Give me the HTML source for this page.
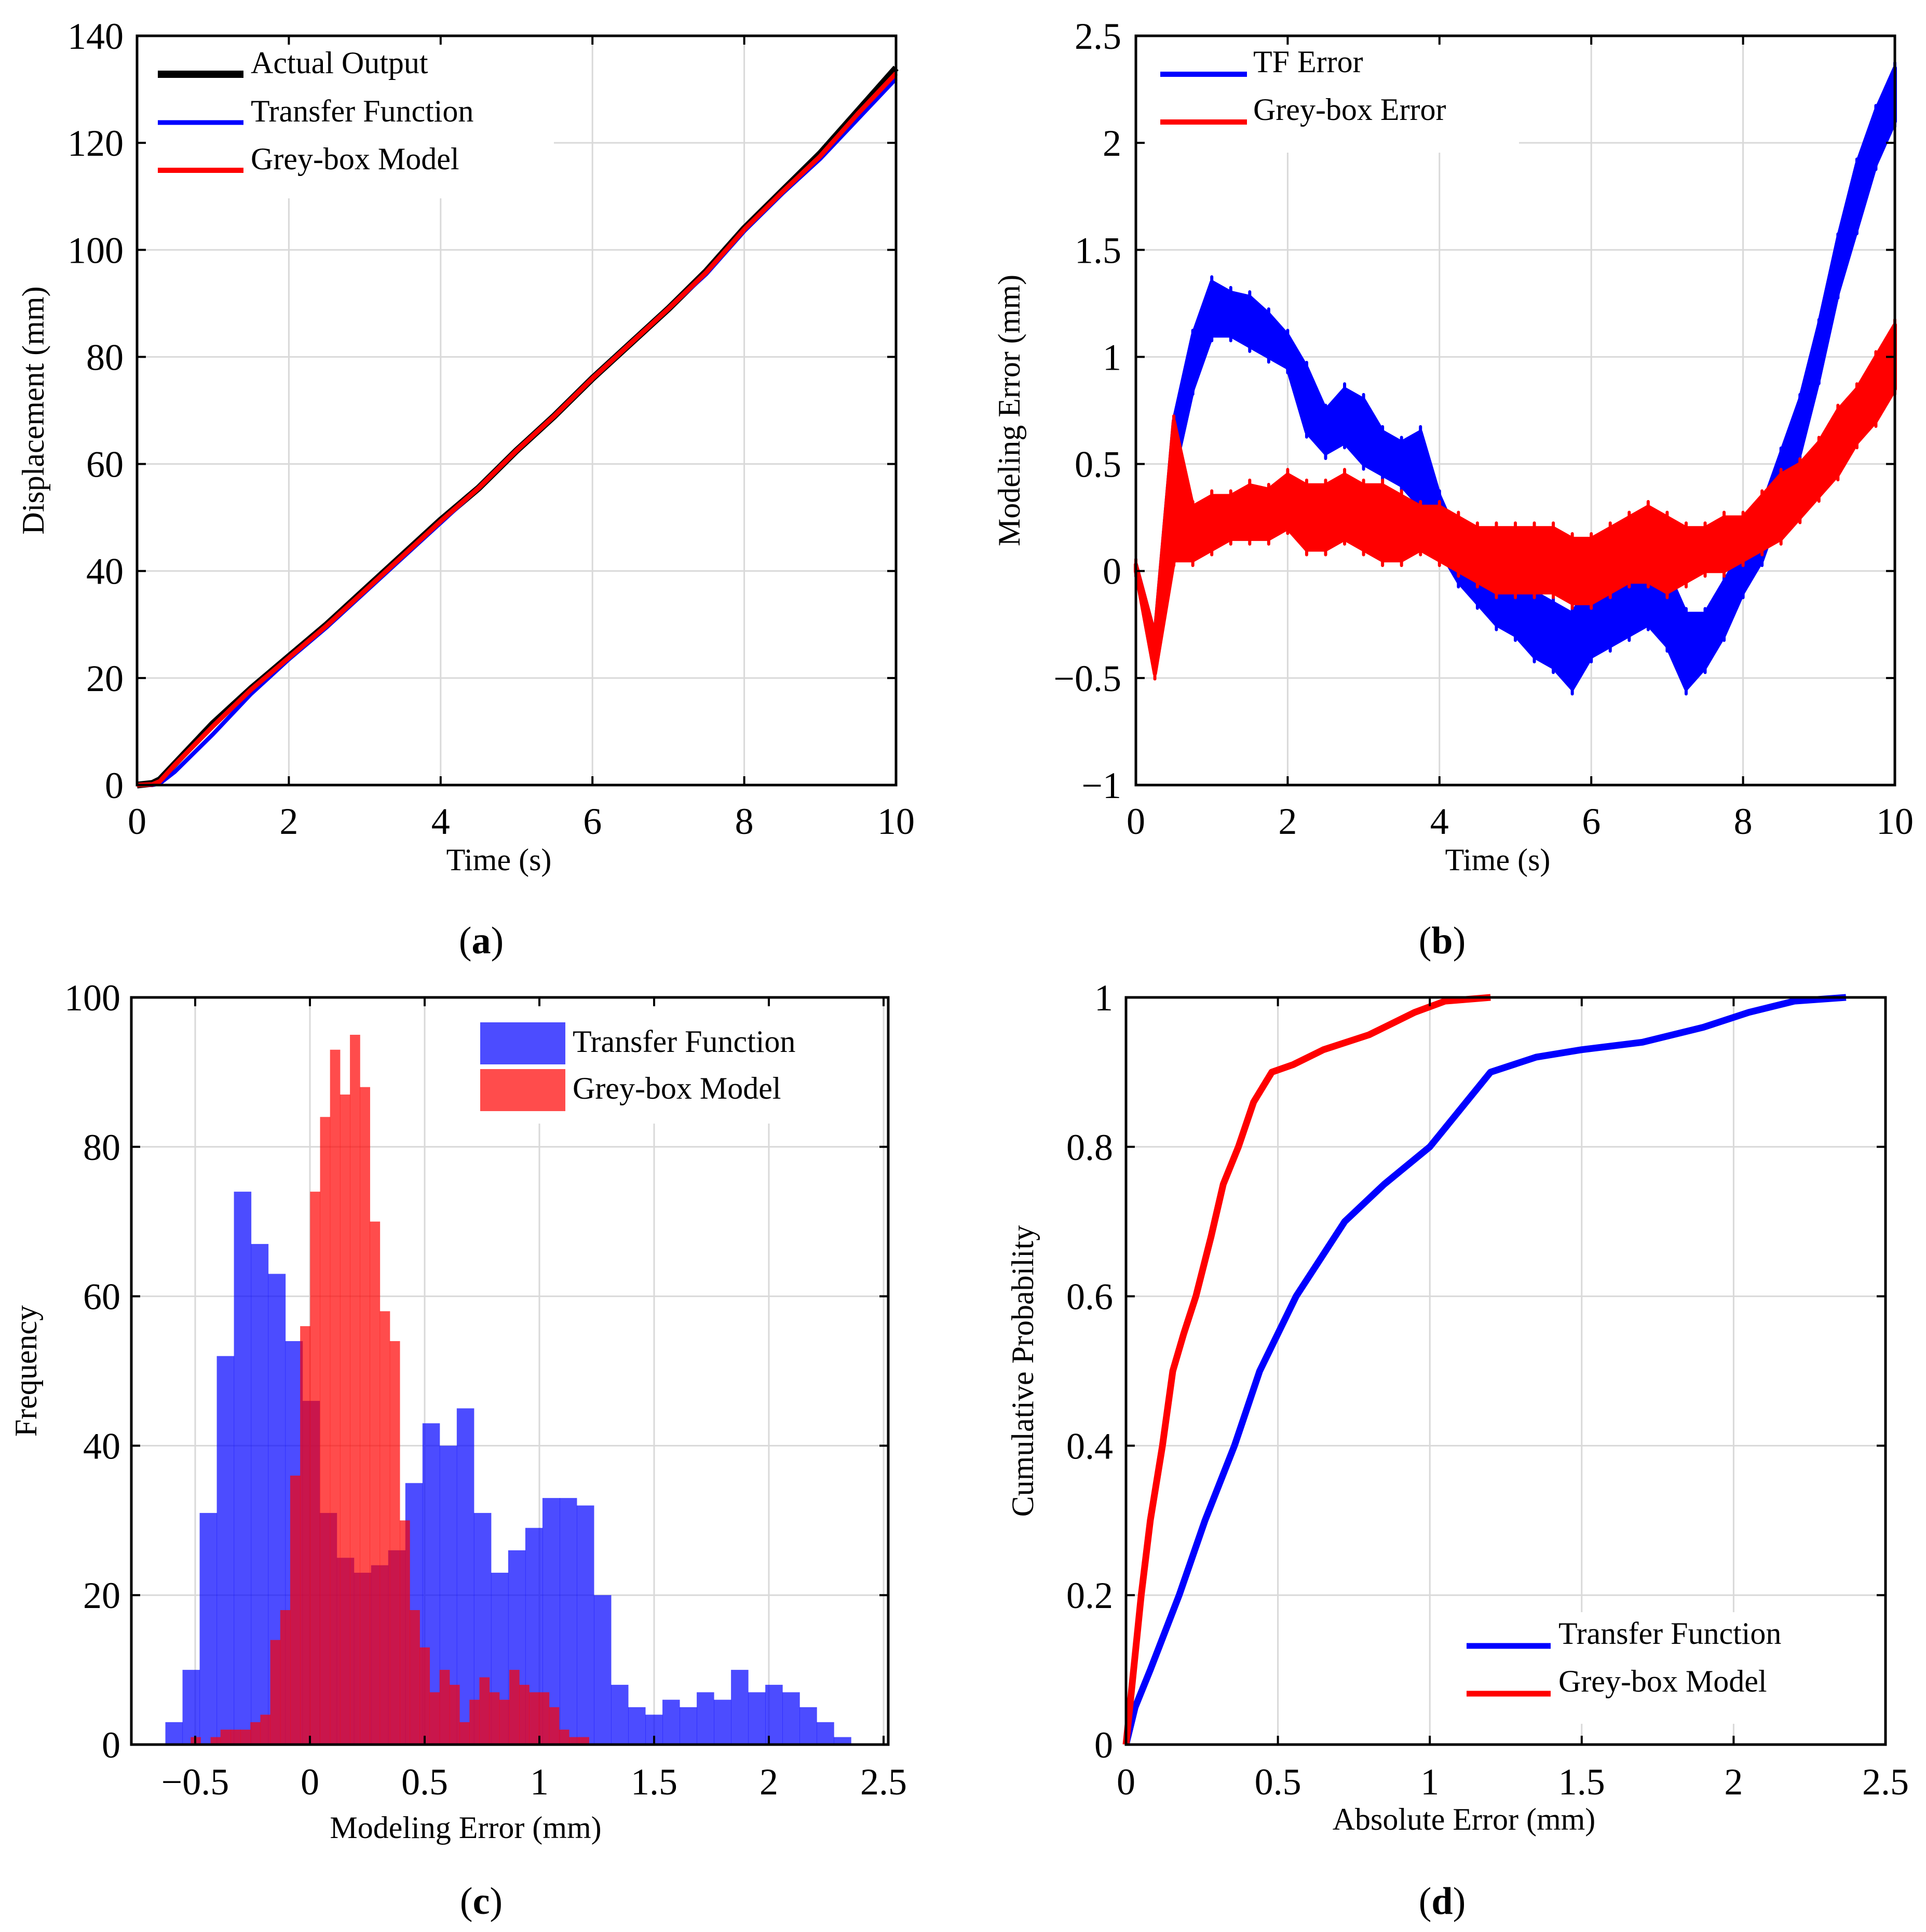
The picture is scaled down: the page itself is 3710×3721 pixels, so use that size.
<!DOCTYPE html>
<html><head><meta charset="utf-8"><style>
html,body{margin:0;padding:0;background:#fff;}
svg{display:block;font-family:"Liberation Serif",serif;}
</style></head><body>
<svg id="fig" xmlns="http://www.w3.org/2000/svg" width="3710" height="3721" viewBox="0 0 3710 3721">
<rect x="0" y="0" width="3710" height="3721" fill="#fff"/>
</svg>
<script>
// ---------- Panel (a) data ----------
const timeA = [0,0.2,0.3,0.5,1,1.5,2,2.5,3,3.5,4,4.5,5,5.5,6,6.5,7,7.5,8,8.5,9,9.5,10];
const actualOut = [0,0.3,1,4,11.5,18,24,30,36.5,43,49.5,55.5,62.5,69,76,82.5,89,96,104,111,118,126,134];
const tfOut = [0,0,0.3,2.5,9.5,17,23.5,29.5,36,42.5,49,55.5,62.5,69,76,82.5,89,95.5,103.5,110.5,117,124.5,132];
const greyOut = [0,0.1,0.7,3.8,11,17.8,23.8,29.8,36.3,42.8,49.3,55.5,62.5,69,76,82.5,89,95.8,103.8,110.8,117.5,125.5,133];
const xTicksA = [0,2,4,6,8,10];
const yTicksA = [0,20,40,60,80,100,120,140];
// ---------- Panel (b) data ----------
const timeB = [0,0.25,0.5,0.75,1,1.25,1.5,1.75,2,2.25,2.5,2.75,3,3.25,3.5,3.75,4,4.25,4.5,4.75,5,5.25,5.5,5.75,6,6.25,6.5,6.75,7,7.25,7.5,7.75,8,8.25,8.5,8.75,9,9.25,9.5,9.75,10];
const tfErrLow = [0,-0.45,0.45,0.85,1.1,1.1,1.05,1.0,0.95,0.65,0.55,0.6,0.5,0.45,0.4,0.3,0.1,-0.05,-0.15,-0.25,-0.3,-0.4,-0.45,-0.55,-0.4,-0.35,-0.3,-0.25,-0.35,-0.55,-0.45,-0.3,-0.1,0.05,0.3,0.55,0.9,1.3,1.6,1.9,2.1];
const tfErrHigh = [0.03,-0.3,0.7,1.1,1.35,1.3,1.28,1.2,1.1,0.95,0.75,0.85,0.8,0.65,0.6,0.65,0.35,0.15,0.1,0.05,0.0,-0.1,-0.15,-0.2,-0.05,-0.05,0.0,0.0,0.0,-0.2,-0.2,-0.05,0.1,0.3,0.55,0.8,1.15,1.55,1.9,2.15,2.35];
const gbErrLow = [0,-0.48,0.05,0.05,0.1,0.15,0.15,0.15,0.2,0.1,0.1,0.15,0.1,0.05,0.05,0.1,0.05,0.0,-0.05,-0.1,-0.1,-0.1,-0.1,-0.15,-0.15,-0.1,-0.05,-0.05,-0.1,-0.05,0.0,0.0,0.05,0.1,0.15,0.25,0.35,0.45,0.6,0.7,0.85];
const gbErrHigh = [0.03,-0.3,0.7,0.3,0.35,0.35,0.4,0.38,0.45,0.4,0.4,0.45,0.4,0.4,0.35,0.3,0.3,0.25,0.2,0.2,0.2,0.2,0.2,0.15,0.15,0.2,0.25,0.3,0.25,0.2,0.2,0.25,0.25,0.35,0.45,0.5,0.6,0.75,0.85,1.0,1.15];
const xTicksB = [0,2,4,6,8,10];
const yTicksB = [-1,-0.5,0,0.5,1,1.5,2,2.5];
const yTickLabelsB = ["\u22121","\u22120.5","0","0.5","1","1.5","2","2.5"];
// ---------- Panel (c) data ----------
const tfBinStart = -0.63, tfBinWidth = 0.0747;
const tfCounts = [3,10,31,52,74,67,63,54,46,31,25,23,24,26,35,43,40,45,31,23,26,29,33,33,32,20,8,5,4,6,5,7,6,10,7,8,7,5,3,1];
const gbBinStart = -0.52, gbBinWidth = 0.0434;
const gbCounts = [1,0,1,2,2,2,3,4,14,18,36,56,74,84,93,87,95,88,70,58,54,30,18,13,7,10,8,3,6,9,7,6,10,8,7,7,5,2,1,1];
const xTicksC = [-0.5,0,0.5,1,1.5,2,2.5];
const xTickLabelsC = ["\u22120.5","0","0.5","1","1.5","2","2.5"];
const yTicksC = [0,20,40,60,80,100];
// ---------- Panel (d) data ----------
const gbAbsErr = [0,0.02,0.05,0.08,0.12,0.154,0.19,0.23,0.28,0.32,0.37,0.42,0.48,0.55,0.65,0.8,0.95,1.05,1.2];
const gbCdf = [0,0.08,0.2,0.3,0.4,0.5,0.55,0.6,0.68,0.75,0.8,0.86,0.9,0.91,0.93,0.95,0.98,0.995,1.0];
const tfAbsErr = [0,0.03,0.08,0.175,0.26,0.357,0.44,0.56,0.72,0.85,1.0,1.1,1.2,1.35,1.5,1.7,1.9,2.05,2.2,2.37];
const tfCdf = [0,0.05,0.1,0.2,0.3,0.4,0.5,0.6,0.7,0.75,0.8,0.85,0.9,0.92,0.93,0.94,0.96,0.98,0.995,1.0];
const xTicksD = [0,0.5,1,1.5,2,2.5];
const yTicksD = [0,0.2,0.4,0.6,0.8,1];

const NS = "http://www.w3.org/2000/svg";
const svg = document.getElementById("fig");
function mk(tag, attrs, parent) {
  const e = document.createElementNS(NS, tag);
  for (const k in attrs) e.setAttribute(k, attrs[k]);
  (parent || svg).appendChild(e);
  return e;
}
function txt(s, x, y, size, anchor, parent, extra) {
  const t = mk("text", Object.assign({x:x, y:y, "font-size":size, "text-anchor":anchor||"middle", fill:"#000"}, extra||{}), parent);
  t.textContent = s;
  return t;
}
function lin(d0, d1, p0, p1) { return v => p0 + (v - d0) * (p1 - p0) / (d1 - d0); }

function axesFrame(P, xTicks, xLabels, yTicks, yLabels, name) {
  const g = mk("g", {});
  
  
  const gg = mk("g", {}, g);
  
  
  xTicks.forEach(v => { const x = P.sx(v); if (x > P.l + 3 && x < P.r - 3) mk("line", {x1:x, x2:x, y1:P.t, y2:P.b, stroke:"#d9d9d9", "stroke-width":3}, gg); });
  yTicks.forEach(v => { const y = P.sy(v); if (y > P.t + 3 && y < P.b - 3) mk("line", {x1:P.l, x2:P.r, y1:y, y2:y, stroke:"#d9d9d9", "stroke-width":3}, gg); });
  return g;
}
function axesTicks(P, xTicks, xLabels, yTicks, yLabels, name, xLabY, yLabX) {
  const g = mk("g", {});
  
  
  mk("rect", {x:P.l, y:P.t, width:P.r-P.l, height:P.b-P.t, fill:"none", stroke:"#000", "stroke-width":5}, g);
  const L = 17;
  xTicks.forEach((v,i) => {
    const x = P.sx(v);
    mk("line", {x1:x, x2:x, y1:P.b, y2:P.b-L, stroke:"#000", "stroke-width":4}, g);
    mk("line", {x1:x, x2:x, y1:P.t, y2:P.t+L, stroke:"#000", "stroke-width":4}, g);
    const t = txt(xLabels[i], x, xLabY, 72, "middle", g);
    
    
  });
  yTicks.forEach((v,i) => {
    const y = P.sy(v);
    mk("line", {x1:P.l, x2:P.l+L, y1:y, y2:y, stroke:"#000", "stroke-width":4}, g);
    mk("line", {x1:P.r, x2:P.r-L, y1:y, y2:y, stroke:"#000", "stroke-width":4}, g);
    const t = txt(yLabels[i], yLabX, y + 25, 72, "end", g);
    
    
  });
}
function titles(P, xt, yt, yx, xy, xtx, lab, labx, laby, name) {
  const a = txt(xt, xtx, xy, 60, "middle");
  
  
  const cy = (P.t+P.b)/2;
  const b = txt(yt, yx, cy, 60, "middle", null, {transform:`rotate(-90 ${yx} ${cy})`});
  
  
  const c = mk("text", {x:labx, y:laby, "font-size":74, "text-anchor":"middle"});
  const s1 = mk("tspan", {}, c); s1.textContent = "(";
  const s2 = mk("tspan", {"font-weight":"bold"}, c); s2.textContent = lab;
  const s3 = mk("tspan", {}, c); s3.textContent = ")";
  
  
}
function pathFrom(xs, ys, P) {
  return xs.map((v,i) => (i ? "L" : "M") + P.sx(v).toFixed(1) + "," + P.sy(ys[i]).toFixed(1)).join(" ");
}

// ================= Panel (a) =================
const PA = {l:264, r:1726, t:69, b:1512};
PA.sx = lin(0, 10, PA.l, PA.r); PA.sy = lin(0, 140, PA.b, PA.t);
axesFrame(PA, xTicksA, null, yTicksA, null, "panel-a");
{
  const lg = mk("rect", {x:PA.l+3, y:PA.t+3, width:800, height:310, fill:"#fff"});
  
  
}
{
  const l1 = mk("path", {d:pathFrom(timeA, actualOut, PA), fill:"none", stroke:"#000", "stroke-width":13, "stroke-linejoin":"round"});
  
  
  const l2 = mk("path", {d:pathFrom(timeA, tfOut, PA), fill:"none", stroke:"#0000ff", "stroke-width":8, "stroke-linejoin":"round"});
  
  
  const l3 = mk("path", {d:pathFrom(timeA, greyOut, PA), fill:"none", stroke:"#ff0000", "stroke-width":9, "stroke-linejoin":"round"});
  
  
}
axesTicks(PA, xTicksA, xTicksA.map(String), yTicksA, yTicksA.map(String), "panel-a", 1606, 238);
{
  const items = [["Actual Output","#000",14,143],["Transfer Function","#0000ff",9,236],["Grey-box Model","#ff0000",10,328]];
  items.forEach(it => {
    const g = mk("g", {});
    
    
    mk("line", {x1:304, x2:469, y1:it[3], y2:it[3], stroke:it[1], "stroke-width":it[2]}, g);
    txt(it[0], 483, it[3]-2, 60, "start", g);
  });
}
titles(PA, "Time (s)", "Displacement (mm)", 84, 1676, 961, "a", 927, 1836, "panel-a");

// ================= Panel (b) =================
const PB = {l:2188, r:3650, t:69, b:1512};
PB.sx = lin(0, 10, PB.l, PB.r); PB.sy = lin(-1, 2.5, PB.b, PB.t);
axesFrame(PB, xTicksB, null, yTicksB, null, "panel-b");
{
  const lg = mk("rect", {x:PB.l+3, y:PB.t+3, width:735, height:222, fill:"#fff"});
  
  
}
function band(xs, lo, hi, color, name) {
  let d = xs.map((v,i) => (i ? "L" : "M") + PB.sx(v).toFixed(1) + "," + PB.sy(hi[i]).toFixed(1)).join(" ");
  for (let i = xs.length - 1; i >= 0; i--) d += " L" + PB.sx(xs[i]).toFixed(1) + "," + PB.sy(lo[i]).toFixed(1);
  d += " Z";
  const p = mk("path", {d:d, fill:color, stroke:color, "stroke-width":8, "stroke-linejoin":"round"});
  
  
  const g = mk("g", {});
  
  
  xs.forEach((v,i) => {
    mk("line", {x1:PB.sx(v), x2:PB.sx(v), y1:PB.sy(lo[i]) + 10, y2:PB.sy(hi[i]) - 10, stroke:color, "stroke-width":6, "stroke-linecap":"round"}, g);
  });
}
band(timeB, tfErrLow, tfErrHigh, "#0000ff", "tf-error-series");
band(timeB, gbErrLow, gbErrHigh, "#ff0000", "grey-box-error-series");
axesTicks(PB, xTicksB, xTicksB.map(String), yTicksB, yTickLabelsB, "panel-b", 1606, 2160);
{
  const items = [["TF Error","#0000ff",143],["Grey-box Error","#ff0000",235]];
  items.forEach(it => {
    const g = mk("g", {});
    
    
    mk("line", {x1:2235, x2:2402, y1:it[2], y2:it[2], stroke:it[1], "stroke-width":10}, g);
    txt(it[0], 2414, it[2]-4, 60, "start", g);
  });
}
titles(PB, "Time (s)", "Modeling Error (mm)", 1964, 1676, 2885, "b", 2778, 1836, "panel-b");

// ================= Panel (c) =================
const PC = {l:253, r:1711, t:1921, b:3360};
PC.sx = lin(0, 0.5, 597, 818); PC.sy = lin(0, 100, PC.b, PC.t);
axesFrame(PC, xTicksC, null, yTicksC, null, "panel-c");
{
  const lg = mk("rect", {x:904, y:PC.t+3, width:640, height:240, fill:"#fff"});
  
  
}
{
  const g1 = mk("g", {});
  
  
  tfCounts.forEach((c,i) => {
    if (!c) return;
    const x0 = PC.sx(tfBinStart + i*tfBinWidth), x1 = PC.sx(tfBinStart + (i+1)*tfBinWidth);
    const r = mk("rect", {x:x0, y:PC.sy(c), width:x1-x0+0.5, height:PC.b-PC.sy(c), fill:"#0000ff", "fill-opacity":0.7}, g1);
    
    
  });
  const g2 = mk("g", {});
  
  
  gbCounts.forEach((c,i) => {
    if (!c) return;
    const x0 = PC.sx(gbBinStart + i*gbBinWidth), x1 = PC.sx(gbBinStart + (i+1)*gbBinWidth);
    const r = mk("rect", {x:x0, y:PC.sy(c), width:x1-x0+0.5, height:PC.b-PC.sy(c), fill:"#ff0000", "fill-opacity":0.7}, g2);
    
    
  });
}
axesTicks(PC, xTicksC, xTickLabelsC, yTicksC, yTicksC.map(String), "panel-c", 3456, 232);
{
  const items = [["Transfer Function","#0000ff",1969],["Grey-box Model","#ff0000",2059]];
  items.forEach(it => {
    const g = mk("g", {});
    
    
    mk("rect", {x:925, y:it[2], width:164, height:81, fill:it[1], "fill-opacity":0.7}, g);
    txt(it[0], 1103, it[2]+57, 60, "start", g);
  });
}
titles(PC, "Modeling Error (mm)", "Frequency", 70, 3540, 897, "c", 927, 3686, "panel-c");

// ================= Panel (d) =================
const PD = {l:2169, r:3632, t:1921, b:3360};
PD.sx = lin(0, 2.5, PD.l, PD.r); PD.sy = lin(0, 1, PD.b, PD.t);
axesFrame(PD, xTicksD, null, yTicksD, null, "panel-d");
{
  const lg = mk("rect", {x:2800, y:3105, width:640, height:215, fill:"#fff"});
  
  
}
{
  const l1 = mk("path", {d:pathFrom(tfAbsErr, tfCdf, PD), fill:"none", stroke:"#0000ff", "stroke-width":13, "stroke-linejoin":"round"});
  
  
  const l2 = mk("path", {d:pathFrom(gbAbsErr, gbCdf, PD), fill:"none", stroke:"#ff0000", "stroke-width":13, "stroke-linejoin":"round"});
  
  
}
axesTicks(PD, xTicksD, xTicksD.map(String), yTicksD, yTicksD.map(String), "panel-d", 3456, 2144);
{
  const items = [["Transfer Function","#0000ff",3170],["Grey-box Model","#ff0000",3262]];
  items.forEach(it => {
    const g = mk("g", {});
    
    
    mk("line", {x1:2825, x2:2987, y1:it[2], y2:it[2], stroke:it[1], "stroke-width":11}, g);
    txt(it[0], 3002, it[2]-4, 60, "start", g);
  });
}
titles(PD, "Absolute Error (mm)", "Cumulative Probability", 1990, 3524, 2820, "d", 2778, 3686, "panel-d");
</script>
</body></html>
